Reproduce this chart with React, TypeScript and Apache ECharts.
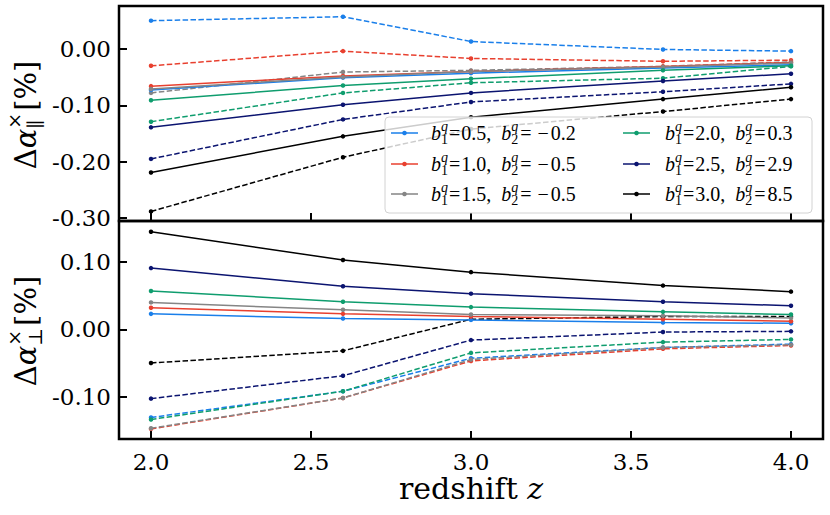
import React, { useEffect, useRef } from "react";
import * as echarts from "echarts";

// ---------------- data ----------------
const redshift = [2.0, 2.6, 3.0, 3.6, 4.0];
const b1Labels = ["0.5", "1.0", "1.5", "2.0", "2.5", "3.0"];
const b2Labels = ["\u22120.2", "\u22120.5", "\u22120.5", "0.3", "2.9", "8.5"];
const colors = ["#1a7fea", "#e8402f", "#858585", "#0f9d6e", "#0b1470", "#000000"];

// top panel: Delta alpha_parallel (solid)
const parSolidBlue = [-0.073, -0.051, -0.043, -0.034, -0.028];
const parSolidRed = [-0.066, -0.048, -0.040, -0.031, -0.024];
const parSolidGray = [-0.071, -0.050, -0.040, -0.032, -0.025];
const parSolidGreen = [-0.091, -0.065, -0.053, -0.038, -0.030];
const parSolidNavy = [-0.139, -0.099, -0.078, -0.057, -0.044];
const parSolidBlack = [-0.219, -0.155, -0.121, -0.089, -0.068];
// top panel (dashed)
const parDashBlue = [0.050, 0.057, 0.013, -0.001, -0.004];
const parDashRed = [-0.030, -0.004, -0.017, -0.022, -0.020];
const parDashGray = [-0.078, -0.041, -0.038, -0.031, -0.023];
const parDashGreen = [-0.129, -0.078, -0.060, -0.052, -0.031];
const parDashNavy = [-0.195, -0.125, -0.094, -0.076, -0.062];
const parDashBlack = [-0.288, -0.192, -0.142, -0.111, -0.089];
// bottom panel: Delta alpha_perp (solid)
const perSolidBlue = [0.023, 0.016, 0.014, 0.010, 0.009];
const perSolidRed = [0.032, 0.023, 0.019, 0.015, 0.012];
const perSolidGray = [0.040, 0.029, 0.022, 0.020, 0.017];
const perSolidGreen = [0.057, 0.041, 0.033, 0.026, 0.022];
const perSolidNavy = [0.091, 0.064, 0.053, 0.041, 0.035];
const perSolidBlack = [0.145, 0.103, 0.085, 0.065, 0.056];
// bottom panel (dashed)
const perDashBlue = [-0.131, -0.092, -0.043, -0.027, -0.022];
const perDashRed = [-0.148, -0.102, -0.047, -0.029, -0.024];
const perDashGray = [-0.147, -0.102, -0.045, -0.027, -0.023];
const perDashGreen = [-0.134, -0.092, -0.035, -0.019, -0.015];
const perDashNavy = [-0.103, -0.069, -0.016, -0.004, -0.003];
const perDashBlack = [-0.050, -0.032, 0.015, 0.019, 0.019];

const parSolid = [parSolidBlue, parSolidRed, parSolidGray, parSolidGreen, parSolidNavy, parSolidBlack];
const parDash = [parDashBlue, parDashRed, parDashGray, parDashGreen, parDashNavy, parDashBlack];
const perSolid = [perSolidBlue, perSolidRed, perSolidGray, perSolidGreen, perSolidNavy, perSolidBlack];
const perDash = [perDashBlue, perDashRed, perDashGray, perDashGreen, perDashNavy, perDashBlack];

// ---------------- helpers ----------------
const TICK_FONT = "DejaVu Serif";
const MATH_FONT = "Liberation Serif";

let measureCtx: CanvasRenderingContext2D | null = null;
function tw(text: string, size: number, family: string, italic?: boolean) {
  if (!measureCtx) measureCtx = document.createElement("canvas").getContext("2d");
  if (!measureCtx) return text.length * size * 0.5;
  measureCtx.font = `${italic ? "italic " : ""}${size}px "${family}"`;
  return measureCtx.measureText(text).width;
}

type P = { t: string; s: number; it?: boolean; dy?: number; f?: string };
type Item = P | { gap: number } | { stack: P[] };

function buildRun(items: Item[], family: string, color: string) {
  const els: any[] = [];
  let x = 0;
  const mk = (p: P, px: number) => ({
    type: "text",
    x: px,
    y: p.dy || 0,
    silent: true,
    style: {
      text: p.t,
      fontSize: p.s,
      fontFamily: p.f || family,
      fontStyle: p.it ? "italic" : "normal",
      fill: color,
      align: "left",
      verticalAlign: "middle",
    },
  });
  for (const it of items) {
    if ("gap" in it) {
      x += it.gap;
      continue;
    }
    if ("stack" in it) {
      let w = 0;
      for (const p of it.stack) {
        els.push(mk(p, x));
        w = Math.max(w, tw(p.t, p.s, p.f || family, p.it));
      }
      x += w;
      continue;
    }
    els.push(mk(it, x));
    x += tw(it.t, it.s, it.f || family, it.it);
  }
  return { els, width: x };
}

function legendItems(b1: string, b2: string): Item[] {
  const S = 20;
  const s = 14;
  const neg = b2.startsWith("\u2212");
  const val2: Item[] = neg
    ? [{ gap: 6 }, { t: "\u2212", s: S }, { gap: 2 }, { t: b2.slice(1), s: S }]
    : [{ gap: 2 }, { t: b2, s: S }];
  return [
    { t: "b", s: S, it: true },
    { stack: [{ t: "q", s, it: true, dy: -7 }, { t: "1", s, dy: 6 }] },
    { gap: 1 },
    { t: "=", s: S },
    { gap: 1 },
    { t: b1 + ",", s: S },
    { gap: 10 },
    { t: "b", s: S, it: true },
    { stack: [{ t: "q", s, it: true, dy: -7 }, { t: "2", s, dy: 6 }] },
    { gap: 2 },
    { t: "=", s: S },
    ...val2,
  ];
}

function yLabelItems(sub: string): Item[] {
  const S = 29;
  return [
    { t: "\u0394", s: S },
    { t: "\u03b1", s: S, it: true },
    { stack: [{ t: "\u00d7", s: 19, dy: -12 }, { t: sub, s: 19, dy: 9 }] },
    { gap: 2 },
    { t: "[%]", s: S },
  ];
}

function fmt2(v: number) {
  const s = v.toFixed(2);
  return s === "-0.00" ? "0.00" : s;
}

export default function App() {
  const ref = useRef<HTMLDivElement>(null);
  useEffect(() => {
    document.body.style.margin = "0";
    if (!ref.current) return;
    const chart = echarts.init(ref.current, undefined, { renderer: "svg" });

    const series: any[] = [];
    const mkSeries = (name: string, data: number[], color: string, dashed: boolean, idx: number) => ({
      type: "line",
      name,
      xAxisIndex: idx,
      yAxisIndex: idx,
      data: redshift.map((z, i) => [z, data[i]]),
      symbol: "circle",
      symbolSize: 4.5,
      showSymbol: true,
      silent: true,
      z: dashed ? 2 : 3,
      lineStyle: { color, width: 1.5, type: dashed ? [5.5, 2.4] : "solid" },
      itemStyle: { color },
    });
    for (let k = 0; k < 6; k++) {
      series.push(mkSeries(`par_solid_${k}`, parSolid[k], colors[k], false, 0));
      series.push(mkSeries(`par_dash_${k}`, parDash[k], colors[k], true, 0));
      series.push(mkSeries(`per_solid_${k}`, perSolid[k], colors[k], false, 1));
      series.push(mkSeries(`per_dash_${k}`, perDash[k], colors[k], true, 1));
    }

    const graphics: any[] = [];
    // legend box
    graphics.push({
      type: "rect",
      z: 100,
      silent: true,
      shape: { x: 385, y: 117, width: 427, height: 96, r: 4 },
      style: { fill: "rgba(255,255,255,0.8)", stroke: "#d2d2d2", lineWidth: 1 },
    });
    const rowY = [133, 164, 194];
    const colLine = [391, 623];
    const colText = [431, 665];
    for (let k = 0; k < 6; k++) {
      const col = k < 3 ? 0 : 1;
      const row = k % 3;
      const y = rowY[row];
      graphics.push({
        type: "line",
        z: 101,
        silent: true,
        shape: { x1: colLine[col], y1: y, x2: colLine[col] + 27, y2: y },
        style: { stroke: colors[k], lineWidth: 1.5 },
      });
      graphics.push({
        type: "circle",
        z: 101,
        silent: true,
        shape: { cx: colLine[col] + 13.5, cy: y, r: 2.3 },
        style: { fill: colors[k] },
      });
      const run = buildRun(legendItems(b1Labels[k], b2Labels[k]), MATH_FONT, "#000");
      graphics.push({
        type: "group",
        z: 101,
        x: colText[col],
        y: y,
        children: run.els.map((e) => ({ ...e, z: 101 })),
      });
    }
    // y labels
    const yl = [
      { sub: "\u2225", cy: 115 },
      { sub: "\u22a5", cy: 331 },
    ];
    for (const l of yl) {
      const run = buildRun(yLabelItems(l.sub), TICK_FONT, "#000");
      graphics.push({
        type: "group",
        x: 26,
        y: l.cy,
        rotation: Math.PI / 2,
        children: run.els.map((e) => ({ ...e, x: e.x - run.width / 2 })),
      });
    }

    const tickLabel = { fontFamily: TICK_FONT, fontSize: 23, color: "#000" };
    const tick = { show: true, inside: true, length: 8, lineStyle: { color: "#000", width: 2 } };

    chart.setOption({
      animation: false,
      grid: [
        { left: 119, top: 6, width: 704, height: 215, show: true, borderColor: "#000", borderWidth: 2.5, backgroundColor: "transparent" },
        { left: 119, top: 221, width: 704, height: 218, show: true, borderColor: "#000", borderWidth: 2.5, backgroundColor: "transparent" },
      ],
      xAxis: [
        {
          type: "value",
          gridIndex: 0,
          min: 1.9,
          max: 4.1,
          splitNumber: 4,
          position: "bottom",
          axisLine: { show: false, onZero: false },
          axisTick: tick,
          axisLabel: { show: false },
          splitLine: { show: false },
        },
        {
          type: "value",
          gridIndex: 1,
          min: 1.9,
          max: 4.1,
          splitNumber: 4,
          position: "bottom",
          axisLine: { show: false, onZero: false },
          axisTick: tick,
          axisLabel: {
            show: true,
            margin: 11,
            showMinLabel: false,
            showMaxLabel: false,
            formatter: (v: number) => v.toFixed(1),
            ...tickLabel,
          },
          splitLine: { show: false },
          name: "redshift {i|z}",
          nameLocation: "middle",
          nameGap: 34,
          nameTextStyle: {
            fontFamily: TICK_FONT,
            fontSize: 30,
            color: "#000",
            rich: { i: { fontFamily: TICK_FONT, fontSize: 30, fontStyle: "italic", color: "#000" } },
          },
        },
      ],
      yAxis: [
        {
          type: "value",
          gridIndex: 0,
          min: -0.305,
          max: 0.076,
          splitNumber: 4,
          axisLine: { show: false, onZero: false },
          axisTick: tick,
          axisLabel: { margin: 8, showMinLabel: false, showMaxLabel: false, formatter: fmt2, ...tickLabel },
          splitLine: { show: false },
        },
        {
          type: "value",
          gridIndex: 1,
          min: -0.163,
          max: 0.161,
          splitNumber: 3,
          axisLine: { show: false, onZero: false },
          axisTick: tick,
          axisLabel: { margin: 8, showMinLabel: false, showMaxLabel: false, formatter: fmt2, ...tickLabel },
          splitLine: { show: false },
        },
      ],
      series,
      graphic: graphics,
    });
    return () => chart.dispose();
  }, []);
  return <div ref={ref} style={{ width: 830, height: 515 }} />;
}
